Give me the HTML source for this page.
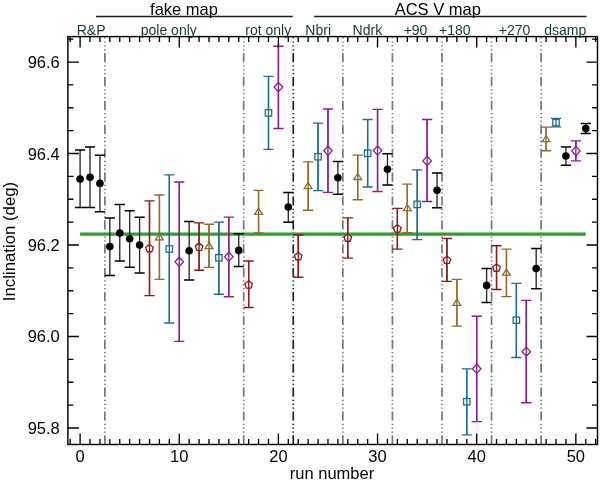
<!DOCTYPE html>
<html><head><meta charset="utf-8"><style>
html,body{margin:0;padding:0;background:#fff;}
body{width:600px;height:483px;position:relative;overflow:hidden;font-family:"Liberation Sans",sans-serif;}
</style></head><body>
<svg width="600" height="483" viewBox="0 0 600 483" style="position:absolute;left:0;top:0">
<path d="M104.89 444.5 V36.6" stroke="#777777" stroke-width="1.7" fill="none" stroke-dasharray="9.16 2.64 1.29 2.59 1.29 2.59 1.29 3.04"/>
<path d="M243.70 444.5 V36.6" stroke="#777777" stroke-width="1.7" fill="none" stroke-dasharray="9.16 2.64 1.29 2.59 1.29 2.59 1.29 3.04"/>
<path d="M293.27 444.5 V36.6" stroke="#222222" stroke-width="1.7" fill="none" stroke-dasharray="9.16 2.64 1.29 2.59 1.29 2.59 1.29 3.04"/>
<path d="M342.85 444.5 V36.6" stroke="#777777" stroke-width="1.7" fill="none" stroke-dasharray="9.16 2.64 1.29 2.59 1.29 2.59 1.29 3.04"/>
<path d="M392.42 444.5 V36.6" stroke="#777777" stroke-width="1.7" fill="none" stroke-dasharray="9.16 2.64 1.29 2.59 1.29 2.59 1.29 3.04"/>
<path d="M442.00 444.5 V36.6" stroke="#777777" stroke-width="1.7" fill="none" stroke-dasharray="9.16 2.64 1.29 2.59 1.29 2.59 1.29 3.04"/>
<path d="M491.57 444.5 V36.6" stroke="#777777" stroke-width="1.7" fill="none" stroke-dasharray="9.16 2.64 1.29 2.59 1.29 2.59 1.29 3.04"/>
<path d="M541.15 444.5 V36.6" stroke="#777777" stroke-width="1.7" fill="none" stroke-dasharray="9.16 2.64 1.29 2.59 1.29 2.59 1.29 3.04"/>
<path d="M80.10 234.1 H585.76" stroke="#2ea02e" stroke-width="3.2" fill="none"/>
<g stroke="#000000" stroke-width="1.5" fill="none">
<path d="M80.10 150.0 V207.6" stroke="#2a2a2a" stroke-width="1.35"/>
<path d="M75.00 150.0 H85.20 M75.00 207.6 H85.20"/>
<circle cx="80.10" cy="179.0" r="3.8" fill="#000000" stroke="none"/>
</g>
<g stroke="#000000" stroke-width="1.5" fill="none">
<path d="M90.01 147.0 V207.4" stroke="#2a2a2a" stroke-width="1.35"/>
<path d="M84.91 147.0 H95.11 M84.91 207.4 H95.11"/>
<circle cx="90.01" cy="177.3" r="3.8" fill="#000000" stroke="none"/>
</g>
<g stroke="#000000" stroke-width="1.5" fill="none">
<path d="M99.93 155.2 V211.8" stroke="#2a2a2a" stroke-width="1.35"/>
<path d="M94.83 155.2 H105.03 M94.83 211.8 H105.03"/>
<circle cx="99.93" cy="183.4" r="3.8" fill="#000000" stroke="none"/>
</g>
<g stroke="#000000" stroke-width="1.5" fill="none">
<path d="M109.84 218.1 V275.4" stroke="#2a2a2a" stroke-width="1.35"/>
<path d="M104.75 218.1 H114.94 M104.75 275.4 H114.94"/>
<circle cx="109.84" cy="246.6" r="3.8" fill="#000000" stroke="none"/>
</g>
<g stroke="#000000" stroke-width="1.5" fill="none">
<path d="M119.76 204.6 V261.0" stroke="#2a2a2a" stroke-width="1.35"/>
<path d="M114.66 204.6 H124.86 M114.66 261.0 H124.86"/>
<circle cx="119.76" cy="233.1" r="3.8" fill="#000000" stroke="none"/>
</g>
<g stroke="#000000" stroke-width="1.5" fill="none">
<path d="M129.67 210.7 V267.2" stroke="#2a2a2a" stroke-width="1.35"/>
<path d="M124.57 210.7 H134.77 M124.57 267.2 H134.77"/>
<circle cx="129.67" cy="238.8" r="3.8" fill="#000000" stroke="none"/>
</g>
<g stroke="#000000" stroke-width="1.5" fill="none">
<path d="M139.59 217.3 V272.9" stroke="#2a2a2a" stroke-width="1.35"/>
<path d="M134.49 217.3 H144.69 M134.49 272.9 H144.69"/>
<circle cx="139.59" cy="245.1" r="3.8" fill="#000000" stroke="none"/>
</g>
<g stroke="#8a1c1c" stroke-width="1.35" fill="none">
<path d="M149.50 200.8 V295.6" stroke="#8a1c1c" stroke-width="1.35"/>
<path d="M144.41 200.8 H154.60 M144.41 295.6 H154.60"/>
<polygon points="149.50,244.50 153.31,247.26 151.86,251.74 147.15,251.74 145.70,247.26" fill="#fff" stroke-width="1.3"/>
<path d="M149.50 200.8 V295.6"/>
</g>
<g stroke="#8f6d2a" stroke-width="1.35" fill="none">
<path d="M159.42 195.0 V279.3" stroke="#8f6d2a" stroke-width="1.35"/>
<path d="M154.32 195.0 H164.52 M154.32 279.3 H164.52"/>
<polygon points="155.52,239.80 163.32,239.80 159.42,233.70" fill="#fff" stroke-width="1.3"/>
<path d="M159.42 195.0 V279.3"/>
</g>
<g stroke="#1f6f8c" stroke-width="1.35" fill="none">
<path d="M169.33 174.9 V323.0" stroke="#1f6f8c" stroke-width="1.35"/>
<path d="M164.23 174.9 H174.43 M164.23 323.0 H174.43"/>
<rect x="166.13" y="245.80" width="6.4" height="6.4" fill="#fff" stroke-width="1.3"/>
<path d="M169.33 174.9 V323.0"/>
</g>
<g stroke="#8a1f8a" stroke-width="1.35" fill="none">
<path d="M179.25 182.0 V341.4" stroke="#8a1f8a" stroke-width="1.35"/>
<path d="M174.15 182.0 H184.35 M174.15 341.4 H184.35"/>
<polygon points="179.25,257.20 183.55,261.80 179.25,266.40 174.95,261.80" fill="#fff" stroke-width="1.3"/>
<path d="M179.25 182.0 V341.4"/>
</g>
<g stroke="#000000" stroke-width="1.5" fill="none">
<path d="M189.16 221.6 V280.0" stroke="#2a2a2a" stroke-width="1.35"/>
<path d="M184.06 221.6 H194.26 M184.06 280.0 H194.26"/>
<circle cx="189.16" cy="250.7" r="3.8" fill="#000000" stroke="none"/>
</g>
<g stroke="#8a1c1c" stroke-width="1.35" fill="none">
<path d="M199.08 222.9 V270.2" stroke="#8a1c1c" stroke-width="1.35"/>
<path d="M193.98 222.9 H204.18 M193.98 270.2 H204.18"/>
<polygon points="199.08,243.10 202.88,245.86 201.43,250.34 196.73,250.34 195.28,245.86" fill="#fff" stroke-width="1.3"/>
<path d="M199.08 222.9 V270.2"/>
</g>
<g stroke="#8f6d2a" stroke-width="1.35" fill="none">
<path d="M208.99 224.2 V267.3" stroke="#8f6d2a" stroke-width="1.35"/>
<path d="M203.89 224.2 H214.09 M203.89 267.3 H214.09"/>
<polygon points="205.09,248.60 212.89,248.60 208.99,242.50" fill="#fff" stroke-width="1.3"/>
<path d="M208.99 224.2 V267.3"/>
</g>
<g stroke="#1f6f8c" stroke-width="1.35" fill="none">
<path d="M218.91 222.1 V294.2" stroke="#1f6f8c" stroke-width="1.35"/>
<path d="M213.81 222.1 H224.01 M213.81 294.2 H224.01"/>
<rect x="215.71" y="254.60" width="6.4" height="6.4" fill="#fff" stroke-width="1.3"/>
<path d="M218.91 222.1 V294.2"/>
</g>
<g stroke="#8a1f8a" stroke-width="1.35" fill="none">
<path d="M228.82 217.1 V296.7" stroke="#8a1f8a" stroke-width="1.35"/>
<path d="M223.72 217.1 H233.92 M223.72 296.7 H233.92"/>
<polygon points="228.82,252.20 233.12,256.80 228.82,261.40 224.52,256.80" fill="#fff" stroke-width="1.3"/>
<path d="M228.82 217.1 V296.7"/>
</g>
<g stroke="#000000" stroke-width="1.5" fill="none">
<path d="M238.74 233.8 V266.5" stroke="#2a2a2a" stroke-width="1.35"/>
<path d="M233.64 233.8 H243.84 M233.64 266.5 H243.84"/>
<circle cx="238.74" cy="250.4" r="3.8" fill="#000000" stroke="none"/>
</g>
<g stroke="#8a1c1c" stroke-width="1.35" fill="none">
<path d="M248.65 261.0 V307.5" stroke="#8a1c1c" stroke-width="1.35"/>
<path d="M243.55 261.0 H253.75 M243.55 307.5 H253.75"/>
<polygon points="248.65,280.90 252.46,283.66 251.01,288.14 246.30,288.14 244.85,283.66" fill="#fff" stroke-width="1.3"/>
<path d="M248.65 261.0 V307.5"/>
</g>
<g stroke="#8f6d2a" stroke-width="1.35" fill="none">
<path d="M258.57 190.4 V233.0" stroke="#8f6d2a" stroke-width="1.35"/>
<path d="M253.47 190.4 H263.67 M253.47 233.0 H263.67"/>
<polygon points="254.67,214.40 262.47,214.40 258.57,208.30" fill="#fff" stroke-width="1.3"/>
<path d="M258.57 190.4 V233.0"/>
</g>
<g stroke="#1f6f8c" stroke-width="1.35" fill="none">
<path d="M268.49 76.4 V149.3" stroke="#1f6f8c" stroke-width="1.35"/>
<path d="M263.38 76.4 H273.59 M263.38 149.3 H273.59"/>
<rect x="265.29" y="109.70" width="6.4" height="6.4" fill="#fff" stroke-width="1.3"/>
<path d="M268.49 76.4 V149.3"/>
</g>
<g stroke="#8a1f8a" stroke-width="1.35" fill="none">
<path d="M278.40 46.2 V128.5" stroke="#8a1f8a" stroke-width="1.35"/>
<path d="M273.30 46.2 H283.50 M273.30 128.5 H283.50"/>
<polygon points="278.40,82.50 282.70,87.10 278.40,91.70 274.10,87.10" fill="#fff" stroke-width="1.3"/>
<path d="M278.40 46.2 V128.5"/>
</g>
<g stroke="#000000" stroke-width="1.5" fill="none">
<path d="M288.31 192.4 V222.2" stroke="#2a2a2a" stroke-width="1.35"/>
<path d="M283.21 192.4 H293.41 M283.21 222.2 H293.41"/>
<circle cx="288.31" cy="207.0" r="3.8" fill="#000000" stroke="none"/>
</g>
<g stroke="#8a1c1c" stroke-width="1.35" fill="none">
<path d="M298.23 235.0 V277.2" stroke="#8a1c1c" stroke-width="1.35"/>
<path d="M293.13 235.0 H303.33 M293.13 277.2 H303.33"/>
<polygon points="298.23,252.50 302.03,255.26 300.58,259.74 295.88,259.74 294.43,255.26" fill="#fff" stroke-width="1.3"/>
<path d="M298.23 235.0 V277.2"/>
</g>
<g stroke="#8f6d2a" stroke-width="1.35" fill="none">
<path d="M308.14 161.8 V210.2" stroke="#8f6d2a" stroke-width="1.35"/>
<path d="M303.04 161.8 H313.25 M303.04 210.2 H313.25"/>
<polygon points="304.25,188.60 312.04,188.60 308.14,182.50" fill="#fff" stroke-width="1.3"/>
<path d="M308.14 161.8 V210.2"/>
</g>
<g stroke="#1f6f8c" stroke-width="1.35" fill="none">
<path d="M318.06 123.1 V190.6" stroke="#1f6f8c" stroke-width="1.35"/>
<path d="M312.96 123.1 H323.16 M312.96 190.6 H323.16"/>
<rect x="314.86" y="153.50" width="6.4" height="6.4" fill="#fff" stroke-width="1.3"/>
<path d="M318.06 123.1 V190.6"/>
</g>
<g stroke="#8a1f8a" stroke-width="1.35" fill="none">
<path d="M327.97 109.0 V192.3" stroke="#8a1f8a" stroke-width="1.35"/>
<path d="M322.87 109.0 H333.07 M322.87 192.3 H333.07"/>
<polygon points="327.97,146.20 332.27,150.80 327.97,155.40 323.67,150.80" fill="#fff" stroke-width="1.3"/>
<path d="M327.97 109.0 V192.3"/>
</g>
<g stroke="#000000" stroke-width="1.5" fill="none">
<path d="M337.89 161.4 V194.3" stroke="#2a2a2a" stroke-width="1.35"/>
<path d="M332.79 161.4 H342.99 M332.79 194.3 H342.99"/>
<circle cx="337.89" cy="177.7" r="3.8" fill="#000000" stroke="none"/>
</g>
<g stroke="#8a1c1c" stroke-width="1.35" fill="none">
<path d="M347.80 217.9 V258.1" stroke="#8a1c1c" stroke-width="1.35"/>
<path d="M342.70 217.9 H352.90 M342.70 258.1 H352.90"/>
<polygon points="347.80,234.00 351.61,236.76 350.16,241.24 345.45,241.24 344.00,236.76" fill="#fff" stroke-width="1.3"/>
<path d="M347.80 217.9 V258.1"/>
</g>
<g stroke="#8f6d2a" stroke-width="1.35" fill="none">
<path d="M357.72 155.1 V199.7" stroke="#8f6d2a" stroke-width="1.35"/>
<path d="M352.62 155.1 H362.82 M352.62 199.7 H362.82"/>
<polygon points="353.82,179.50 361.62,179.50 357.72,173.40" fill="#fff" stroke-width="1.3"/>
<path d="M357.72 155.1 V199.7"/>
</g>
<g stroke="#1f6f8c" stroke-width="1.35" fill="none">
<path d="M367.63 119.5 V187.0" stroke="#1f6f8c" stroke-width="1.35"/>
<path d="M362.53 119.5 H372.74 M362.53 187.0 H372.74"/>
<rect x="364.44" y="150.10" width="6.4" height="6.4" fill="#fff" stroke-width="1.3"/>
<path d="M367.63 119.5 V187.0"/>
</g>
<g stroke="#8a1f8a" stroke-width="1.35" fill="none">
<path d="M377.55 109.4 V191.5" stroke="#8a1f8a" stroke-width="1.35"/>
<path d="M372.45 109.4 H382.65 M372.45 191.5 H382.65"/>
<polygon points="377.55,145.90 381.85,150.50 377.55,155.10 373.25,150.50" fill="#fff" stroke-width="1.3"/>
<path d="M377.55 109.4 V191.5"/>
</g>
<g stroke="#000000" stroke-width="1.5" fill="none">
<path d="M387.46 153.8 V184.9" stroke="#2a2a2a" stroke-width="1.35"/>
<path d="M382.36 153.8 H392.56 M382.36 184.9 H392.56"/>
<circle cx="387.46" cy="169.2" r="3.8" fill="#000000" stroke="none"/>
</g>
<g stroke="#8a1c1c" stroke-width="1.35" fill="none">
<path d="M397.38 208.4 V249.1" stroke="#8a1c1c" stroke-width="1.35"/>
<path d="M392.28 208.4 H402.48 M392.28 249.1 H402.48"/>
<polygon points="397.38,224.80 401.18,227.56 399.73,232.04 395.03,232.04 393.58,227.56" fill="#fff" stroke-width="1.3"/>
<path d="M397.38 208.4 V249.1"/>
</g>
<g stroke="#8f6d2a" stroke-width="1.35" fill="none">
<path d="M407.29 184.1 V232.6" stroke="#8f6d2a" stroke-width="1.35"/>
<path d="M402.19 184.1 H412.39 M402.19 232.6 H412.39"/>
<polygon points="403.39,210.60 411.19,210.60 407.29,204.50" fill="#fff" stroke-width="1.3"/>
<path d="M407.29 184.1 V232.6"/>
</g>
<g stroke="#1f6f8c" stroke-width="1.35" fill="none">
<path d="M417.21 169.9 V239.6" stroke="#1f6f8c" stroke-width="1.35"/>
<path d="M412.11 169.9 H422.31 M412.11 239.6 H422.31"/>
<rect x="414.01" y="201.20" width="6.4" height="6.4" fill="#fff" stroke-width="1.3"/>
<path d="M417.21 169.9 V239.6"/>
</g>
<g stroke="#8a1f8a" stroke-width="1.35" fill="none">
<path d="M427.12 119.5 V201.5" stroke="#8a1f8a" stroke-width="1.35"/>
<path d="M422.02 119.5 H432.23 M422.02 201.5 H432.23"/>
<polygon points="427.12,156.30 431.43,160.90 427.12,165.50 422.82,160.90" fill="#fff" stroke-width="1.3"/>
<path d="M427.12 119.5 V201.5"/>
</g>
<g stroke="#000000" stroke-width="1.5" fill="none">
<path d="M437.04 173.0 V207.7" stroke="#2a2a2a" stroke-width="1.35"/>
<path d="M431.94 173.0 H442.14 M431.94 207.7 H442.14"/>
<circle cx="437.04" cy="190.2" r="3.8" fill="#000000" stroke="none"/>
</g>
<g stroke="#8a1c1c" stroke-width="1.35" fill="none">
<path d="M446.95 238.5 V281.3" stroke="#8a1c1c" stroke-width="1.35"/>
<path d="M441.85 238.5 H452.05 M441.85 281.3 H452.05"/>
<polygon points="446.95,256.20 450.76,258.96 449.31,263.44 444.60,263.44 443.15,258.96" fill="#fff" stroke-width="1.3"/>
<path d="M446.95 238.5 V281.3"/>
</g>
<g stroke="#8f6d2a" stroke-width="1.35" fill="none">
<path d="M456.87 279.3 V326.1" stroke="#8f6d2a" stroke-width="1.35"/>
<path d="M451.77 279.3 H461.97 M451.77 326.1 H461.97"/>
<polygon points="452.97,305.30 460.77,305.30 456.87,299.20" fill="#fff" stroke-width="1.3"/>
<path d="M456.87 279.3 V326.1"/>
</g>
<g stroke="#1f6f8c" stroke-width="1.35" fill="none">
<path d="M466.78 368.8 V434.8" stroke="#1f6f8c" stroke-width="1.35"/>
<path d="M461.68 368.8 H471.88 M461.68 434.8 H471.88"/>
<rect x="463.58" y="398.50" width="6.4" height="6.4" fill="#fff" stroke-width="1.3"/>
<path d="M466.78 368.8 V434.8"/>
</g>
<g stroke="#8a1f8a" stroke-width="1.35" fill="none">
<path d="M476.70 316.2 V421.6" stroke="#8a1f8a" stroke-width="1.35"/>
<path d="M471.60 316.2 H481.80 M471.60 421.6 H481.80"/>
<polygon points="476.70,364.20 481.00,368.80 476.70,373.40 472.40,368.80" fill="#fff" stroke-width="1.3"/>
<path d="M476.70 316.2 V421.6"/>
</g>
<g stroke="#000000" stroke-width="1.5" fill="none">
<path d="M486.62 268.5 V302.4" stroke="#2a2a2a" stroke-width="1.35"/>
<path d="M481.51 268.5 H491.72 M481.51 302.4 H491.72"/>
<circle cx="486.62" cy="285.4" r="3.8" fill="#000000" stroke="none"/>
</g>
<g stroke="#8a1c1c" stroke-width="1.35" fill="none">
<path d="M496.53 245.7 V289.5" stroke="#8a1c1c" stroke-width="1.35"/>
<path d="M491.43 245.7 H501.63 M491.43 289.5 H501.63"/>
<polygon points="496.53,264.00 500.33,266.76 498.88,271.24 494.18,271.24 492.73,266.76" fill="#fff" stroke-width="1.3"/>
<path d="M496.53 245.7 V289.5"/>
</g>
<g stroke="#8f6d2a" stroke-width="1.35" fill="none">
<path d="M506.44 249.1 V296.6" stroke="#8f6d2a" stroke-width="1.35"/>
<path d="M501.34 249.1 H511.54 M501.34 296.6 H511.54"/>
<polygon points="502.54,275.20 510.34,275.20 506.44,269.10" fill="#fff" stroke-width="1.3"/>
<path d="M506.44 249.1 V296.6"/>
</g>
<g stroke="#1f6f8c" stroke-width="1.35" fill="none">
<path d="M516.36 283.4 V357.5" stroke="#1f6f8c" stroke-width="1.35"/>
<path d="M511.26 283.4 H521.46 M511.26 357.5 H521.46"/>
<rect x="513.16" y="317.00" width="6.4" height="6.4" fill="#fff" stroke-width="1.3"/>
<path d="M516.36 283.4 V357.5"/>
</g>
<g stroke="#8a1f8a" stroke-width="1.35" fill="none">
<path d="M526.27 300.4 V402.7" stroke="#8a1f8a" stroke-width="1.35"/>
<path d="M521.17 300.4 H531.38 M521.17 402.7 H531.38"/>
<polygon points="526.27,347.10 530.57,351.70 526.27,356.30 521.98,351.70" fill="#fff" stroke-width="1.3"/>
<path d="M526.27 300.4 V402.7"/>
</g>
<g stroke="#000000" stroke-width="1.5" fill="none">
<path d="M536.19 248.6 V288.8" stroke="#2a2a2a" stroke-width="1.35"/>
<path d="M531.09 248.6 H541.29 M531.09 288.8 H541.29"/>
<circle cx="536.19" cy="268.6" r="3.8" fill="#000000" stroke="none"/>
</g>
<g stroke="#8f6d2a" stroke-width="1.35" fill="none">
<path d="M546.10 127.1 V150.7" stroke="#8f6d2a" stroke-width="1.35"/>
<path d="M541.00 127.1 H551.20 M541.00 150.7 H551.20"/>
<polygon points="542.20,141.70 550.00,141.70 546.10,135.60" fill="#fff" stroke-width="1.3"/>
<path d="M546.10 127.1 V150.7"/>
</g>
<g stroke="#1f6f8c" stroke-width="1.35" fill="none">
<path d="M556.02 118.4 V126.8" stroke="#1f6f8c" stroke-width="1.35"/>
<path d="M550.92 118.4 H561.12 M550.92 126.8 H561.12"/>
<rect x="552.82" y="119.40" width="6.4" height="6.4" fill="#fff" stroke-width="1.3"/>
<path d="M556.02 118.4 V126.8"/>
</g>
<g stroke="#000000" stroke-width="1.5" fill="none">
<path d="M565.93 147.0 V165.3" stroke="#2a2a2a" stroke-width="1.35"/>
<path d="M560.83 147.0 H571.03 M560.83 165.3 H571.03"/>
<circle cx="565.93" cy="156.0" r="3.8" fill="#000000" stroke="none"/>
</g>
<g stroke="#8a1f8a" stroke-width="1.35" fill="none">
<path d="M575.85 140.8 V160.9" stroke="#8a1f8a" stroke-width="1.35"/>
<path d="M570.75 140.8 H580.95 M570.75 160.9 H580.95"/>
<polygon points="575.85,146.40 580.15,151.00 575.85,155.60 571.55,151.00" fill="#fff" stroke-width="1.3"/>
<path d="M575.85 140.8 V160.9"/>
</g>
<g stroke="#000000" stroke-width="1.5" fill="none">
<path d="M585.76 123.4 V133.4" stroke="#2a2a2a" stroke-width="1.35"/>
<path d="M580.66 123.4 H590.87 M580.66 133.4 H590.87"/>
<circle cx="585.76" cy="128.6" r="3.8" fill="#000000" stroke="none"/>
</g>
<rect x="67.9" y="36.6" width="529.60" height="407.90" fill="none" stroke="#000" stroke-width="1.45"/>
<path d="M70.19 444.5 v-5.5 M70.19 36.6 v5.5 M80.10 444.5 v-11 M80.10 36.6 v11 M90.01 444.5 v-5.5 M90.01 36.6 v5.5 M99.93 444.5 v-5.5 M99.93 36.6 v5.5 M109.84 444.5 v-5.5 M109.84 36.6 v5.5 M119.76 444.5 v-5.5 M119.76 36.6 v5.5 M129.67 444.5 v-5.5 M129.67 36.6 v5.5 M139.59 444.5 v-5.5 M139.59 36.6 v5.5 M149.50 444.5 v-5.5 M149.50 36.6 v5.5 M159.42 444.5 v-5.5 M159.42 36.6 v5.5 M169.33 444.5 v-5.5 M169.33 36.6 v5.5 M179.25 444.5 v-11 M179.25 36.6 v11 M189.16 444.5 v-5.5 M189.16 36.6 v5.5 M199.08 444.5 v-5.5 M199.08 36.6 v5.5 M208.99 444.5 v-5.5 M208.99 36.6 v5.5 M218.91 444.5 v-5.5 M218.91 36.6 v5.5 M228.82 444.5 v-5.5 M228.82 36.6 v5.5 M238.74 444.5 v-5.5 M238.74 36.6 v5.5 M248.65 444.5 v-5.5 M248.65 36.6 v5.5 M258.57 444.5 v-5.5 M258.57 36.6 v5.5 M268.49 444.5 v-5.5 M268.49 36.6 v5.5 M278.40 444.5 v-11 M278.40 36.6 v11 M288.31 444.5 v-5.5 M288.31 36.6 v5.5 M298.23 444.5 v-5.5 M298.23 36.6 v5.5 M308.14 444.5 v-5.5 M308.14 36.6 v5.5 M318.06 444.5 v-5.5 M318.06 36.6 v5.5 M327.97 444.5 v-5.5 M327.97 36.6 v5.5 M337.89 444.5 v-5.5 M337.89 36.6 v5.5 M347.80 444.5 v-5.5 M347.80 36.6 v5.5 M357.72 444.5 v-5.5 M357.72 36.6 v5.5 M367.63 444.5 v-5.5 M367.63 36.6 v5.5 M377.55 444.5 v-11 M377.55 36.6 v11 M387.46 444.5 v-5.5 M387.46 36.6 v5.5 M397.38 444.5 v-5.5 M397.38 36.6 v5.5 M407.29 444.5 v-5.5 M407.29 36.6 v5.5 M417.21 444.5 v-5.5 M417.21 36.6 v5.5 M427.12 444.5 v-5.5 M427.12 36.6 v5.5 M437.04 444.5 v-5.5 M437.04 36.6 v5.5 M446.95 444.5 v-5.5 M446.95 36.6 v5.5 M456.87 444.5 v-5.5 M456.87 36.6 v5.5 M466.78 444.5 v-5.5 M466.78 36.6 v5.5 M476.70 444.5 v-11 M476.70 36.6 v11 M486.62 444.5 v-5.5 M486.62 36.6 v5.5 M496.53 444.5 v-5.5 M496.53 36.6 v5.5 M506.44 444.5 v-5.5 M506.44 36.6 v5.5 M516.36 444.5 v-5.5 M516.36 36.6 v5.5 M526.27 444.5 v-5.5 M526.27 36.6 v5.5 M536.19 444.5 v-5.5 M536.19 36.6 v5.5 M546.10 444.5 v-5.5 M546.10 36.6 v5.5 M556.02 444.5 v-5.5 M556.02 36.6 v5.5 M565.93 444.5 v-5.5 M565.93 36.6 v5.5 M575.85 444.5 v-11 M575.85 36.6 v11 M585.76 444.5 v-5.5 M585.76 36.6 v5.5 M595.68 444.5 v-5.5 M595.68 36.6 v5.5 M67.9 427.97 h11 M597.5 427.97 h-11 M67.9 405.10 h5.5 M597.5 405.10 h-5.5 M67.9 382.23 h5.5 M597.5 382.23 h-5.5 M67.9 359.36 h5.5 M597.5 359.36 h-5.5 M67.9 336.49 h11 M597.5 336.49 h-11 M67.9 313.62 h5.5 M597.5 313.62 h-5.5 M67.9 290.75 h5.5 M597.5 290.75 h-5.5 M67.9 267.88 h5.5 M597.5 267.88 h-5.5 M67.9 245.01 h11 M597.5 245.01 h-11 M67.9 222.14 h5.5 M597.5 222.14 h-5.5 M67.9 199.27 h5.5 M597.5 199.27 h-5.5 M67.9 176.40 h5.5 M597.5 176.40 h-5.5 M67.9 153.53 h11 M597.5 153.53 h-11 M67.9 130.66 h5.5 M597.5 130.66 h-5.5 M67.9 107.79 h5.5 M597.5 107.79 h-5.5 M67.9 84.92 h5.5 M597.5 84.92 h-5.5 M67.9 62.05 h11 M597.5 62.05 h-11 M67.9 39.18 h5.5 M597.5 39.18 h-5.5" stroke="#000" stroke-width="1.35" fill="none"/>
<path d="M96 16.5 H292.7 M314.2 16.5 H586.5" stroke="#1a1a1a" stroke-width="1.3" fill="none"/>
</svg>
<svg width="600" height="483" viewBox="0 0 600 483" style="position:absolute;left:0;top:0;will-change:transform" font-family="Liberation Sans, sans-serif">
<g font-size="16.5" fill="#000">
<text x="184" y="15.1" text-anchor="middle">fake map</text>
<text x="437.8" y="15.0" text-anchor="middle">ACS V map</text>
<text x="59.8" y="159.5" text-anchor="end">96.4</text>
<text x="59.8" y="68.3" text-anchor="end">96.6</text>
<text x="59.8" y="250.8" text-anchor="end">96.2</text>
<text x="59.8" y="342.2" text-anchor="end">96.0</text>
<text x="59.8" y="433.6" text-anchor="end">95.8</text>
<text x="80.10" y="461.6" text-anchor="middle">0</text>
<text x="179.25" y="461.6" text-anchor="middle">10</text>
<text x="278.40" y="461.6" text-anchor="middle">20</text>
<text x="377.55" y="461.6" text-anchor="middle">30</text>
<text x="476.70" y="461.6" text-anchor="middle">40</text>
<text x="575.85" y="461.6" text-anchor="middle">50</text>
<text x="332" y="478.6" text-anchor="middle">run number</text>
<text transform="translate(14.9 241.5) rotate(-90)" text-anchor="middle" font-size="16.8">Inclination (deg)</text>
</g>
<g font-size="14" fill="#123a3a">
<text x="91.1" y="34.5" text-anchor="middle">R&amp;P</text>
<text x="168.8" y="34.5" text-anchor="middle">pole only</text>
<text x="268.2" y="34.5" text-anchor="middle">rot only</text>
<text x="318.2" y="34.5" text-anchor="middle">Nbri</text>
<text x="367.4" y="34.5" text-anchor="middle">Ndrk</text>
<text x="415.5" y="34.5" text-anchor="middle">+90</text>
<text x="454.8" y="34.5" text-anchor="middle">+180</text>
<text x="514.6" y="34.5" text-anchor="middle">+270</text>
<text x="565.2" y="34.5" text-anchor="middle">dsamp</text>
</g>
</svg>
</body></html>
